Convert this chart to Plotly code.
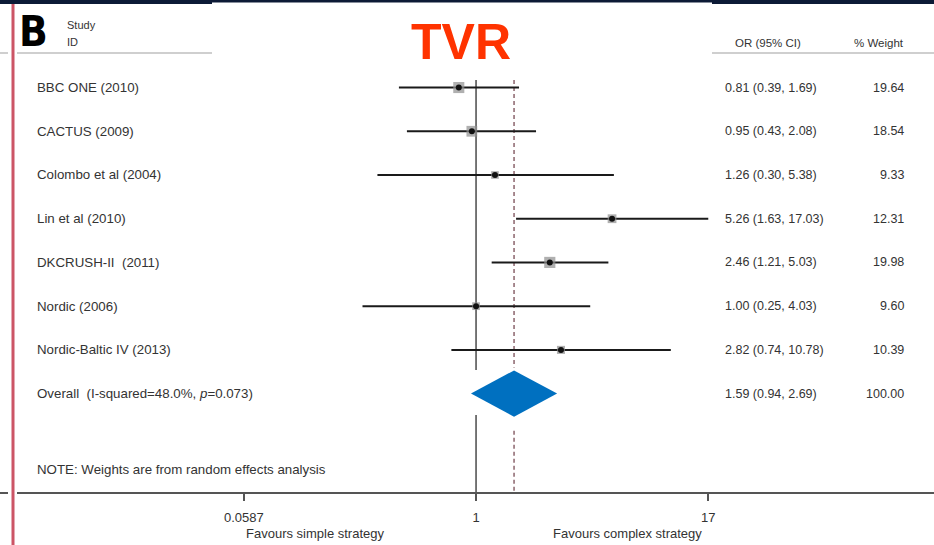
import plotly.graph_objects as go

# ---------------- data ----------------
studies = ["BBC ONE (2010)", "CACTUS (2009)", "Colombo et al (2004)", "Lin et al (2010)",
           "DKCRUSH-II  (2011)", "Nordic (2006)", "Nordic-Baltic IV (2013)"]
or_vals = [0.81, 0.95, 1.26, 5.26, 2.46, 1.00, 2.82]
ci_low = [0.39, 0.43, 0.30, 1.63, 1.21, 0.25, 0.74]
ci_high = [1.69, 2.08, 5.38, 17.03, 5.03, 4.03, 10.78]
weights = [19.64, 18.54, 9.33, 12.31, 19.98, 9.60, 10.39]

overall_label = "Overall  (I-squared=48.0%, <i>p</i>=0.073)"
overall_or = 1.59
overall_low = 0.94
overall_high = 2.69
overall_weight = 100.00

note_text = "NOTE: Weights are from random effects analysis"
tick_vals = [0.0587, 1, 17]
tick_text = ["0.0587", "1", "17"]
null_value = 1

# ---------------- geometry helpers ----------------
W, H = 934, 545
T, B = 53, 53
PH = H - T - B
FONT = "Liberation Sans, Arial, sans-serif"
TXT = "#333333"


def px_x(p):
    return p / W


def px_y(p):
    return (H - B - p) / PH


rows = list(range(len(studies)))
overall_row = len(studies)
note_row = 8.73
y_top, y_bot = -0.17, 9.25

fig = go.Figure()

# reference lines (split around the pasted diamond)
fig.add_trace(go.Scatter(
    x=[null_value, null_value, None, null_value, null_value],
    y=[y_top, overall_row - 0.54, None, overall_row + 0.49, y_bot],
    mode="lines", line=dict(color="#555555", width=1.6), hoverinfo="skip", showlegend=False))
fig.add_trace(go.Scatter(
    x=[overall_or, overall_or, None, overall_or, overall_or],
    y=[y_top, overall_row - 0.6, None, overall_row + 0.85, y_bot],
    mode="lines", line=dict(color="#6e3d47", width=1.2, dash="4px,3px"),
    hoverinfo="skip", showlegend=False))

# confidence intervals
cx, cy = [], []
for r, lo, hi in zip(rows, ci_low, ci_high):
    cx += [lo, hi, None]
    cy += [r, r, None]
fig.add_trace(go.Scatter(x=cx, y=cy, mode="lines", line=dict(color="#1a1a1a", width=2),
                         hoverinfo="skip", showlegend=False))

# weight boxes and point estimates
fig.add_trace(go.Scatter(
    x=or_vals, y=rows, mode="markers",
    marker=dict(symbol="square", size=[w ** 0.5 * 2.5 for w in weights], color="#8f8f8f",
                line=dict(width=0)),
    hoverinfo="skip", showlegend=False))
fig.add_trace(go.Scatter(
    x=or_vals, y=rows, mode="markers",
    marker=dict(symbol="circle", size=6, color="#111111"),
    hoverinfo="skip", showlegend=False))

# overall diamond
fig.add_trace(go.Scatter(
    x=[overall_low, overall_or, overall_high, overall_or, overall_low],
    y=[overall_row, overall_row - 0.53, overall_row, overall_row + 0.53, overall_row],
    mode="lines", fill="toself", fillcolor="#0070C0", line=dict(width=0, color="#0070C0"),
    hoverinfo="skip", showlegend=False))


def A(x, y, text, size, xanchor="left", yref="paper", color=TXT, family=FONT):
    return dict(x=x, y=y, xref="paper", yref=yref, text=text, xanchor=xanchor,
                yanchor="middle", showarrow=False,
                font=dict(size=size, color=color, family=family))


ann = []
# study labels and columns
for r, s, o, lo, hi, w in zip(rows, studies, or_vals, ci_low, ci_high, weights):
    ann.append(A(px_x(35), r, s, 13.3, yref="y"))
    ann.append(A(px_x(723), r, f"{o:.2f} ({lo:.2f}, {hi:.2f})", 12.5, yref="y"))
    ann.append(A(px_x(906), r, f"{w:.2f}", 12.5, xanchor="right", yref="y"))
ann.append(A(px_x(35), overall_row, overall_label, 13.3, yref="y"))
ann.append(A(px_x(723), overall_row,
             f"{overall_or:.2f} ({overall_low:.2f}, {overall_high:.2f})", 12.5, yref="y"))
ann.append(A(px_x(906), overall_row, f"{overall_weight:.2f}", 12.5, xanchor="right",
             yref="y"))
ann.append(A(px_x(35), note_row, note_text, 13.3, yref="y"))

# headers and titles
ann += [
    A(px_x(65), px_y(25), "Study", 11),
    A(px_x(65), px_y(42), "ID", 11),
    A(px_x(733), px_y(43), "OR (95% CI)", 11.5),
    A(px_x(852), px_y(43), "% Weight", 11.5),
    A(px_x(461), px_y(42), "<b>TVR</b>", 50, xanchor="center", color="#FF3300"),
    A(px_x(17), px_y(31), "<b>B</b>", 42, color="#000000",
      family="DejaVu Sans Condensed, Liberation Sans Narrow, Arial Narrow, sans-serif"),
    A(px_x(315), px_y(533), "Favours simple strategy", 13, xanchor="center"),
    A(px_x(627), px_y(533), "Favours complex strategy", 13, xanchor="center"),
]

shapes = [
    # header rule (interrupted by the title box)
    dict(type="line", xref="paper", yref="paper", x0=px_x(0), x1=px_x(212), y0=px_y(53),
         y1=px_y(53), line=dict(color="#cfcfcf", width=2)),
    dict(type="line", xref="paper", yref="paper", x0=px_x(712), x1=px_x(934), y0=px_y(53),
         y1=px_y(53), line=dict(color="#cfcfcf", width=2)),
    # navy band on top
    dict(type="rect", xref="paper", yref="paper", x0=0, x1=1, y0=px_y(4), y1=px_y(0),
         fillcolor="#0c1a36", line=dict(width=0)),
    dict(type="rect", xref="paper", yref="paper", x0=px_x(212), x1=px_x(712), y0=px_y(5),
         y1=px_y(2.5), fillcolor="#ffffff", line=dict(width=0)),
    # left red bar with white margins
    dict(type="rect", xref="paper", yref="paper", x0=px_x(8), x1=px_x(17), y0=px_y(545),
         y1=px_y(4), fillcolor="#ffffff", line=dict(width=0)),
    dict(type="rect", xref="paper", yref="paper", x0=px_x(11.5), x1=px_x(14.5), y0=px_y(545),
         y1=px_y(4), fillcolor="#cc5566", line=dict(width=0)),
]

fig.update_layout(
    width=W, height=H,
    margin=dict(l=0, r=0, t=T, b=B),
    paper_bgcolor="white", plot_bgcolor="white",
    showlegend=False,
    annotations=ann,
    shapes=shapes,
    xaxis=dict(type="log", range=[-2.524, 2.428], domain=[0, 1],
               tickvals=tick_vals, ticktext=tick_text, ticks="outside", ticklen=7,
               tickwidth=1.5, tickcolor="#555555", showline=True, linecolor="#555555",
               linewidth=2, showgrid=False, zeroline=False, ticklabelstandoff=5,
               tickfont=dict(size=13, color=TXT, family=FONT), fixedrange=True),
    yaxis=dict(range=[y_bot, y_top - 0.62], visible=False, showgrid=False, zeroline=False,
               fixedrange=True),
)

fig.write_html("out.html")
